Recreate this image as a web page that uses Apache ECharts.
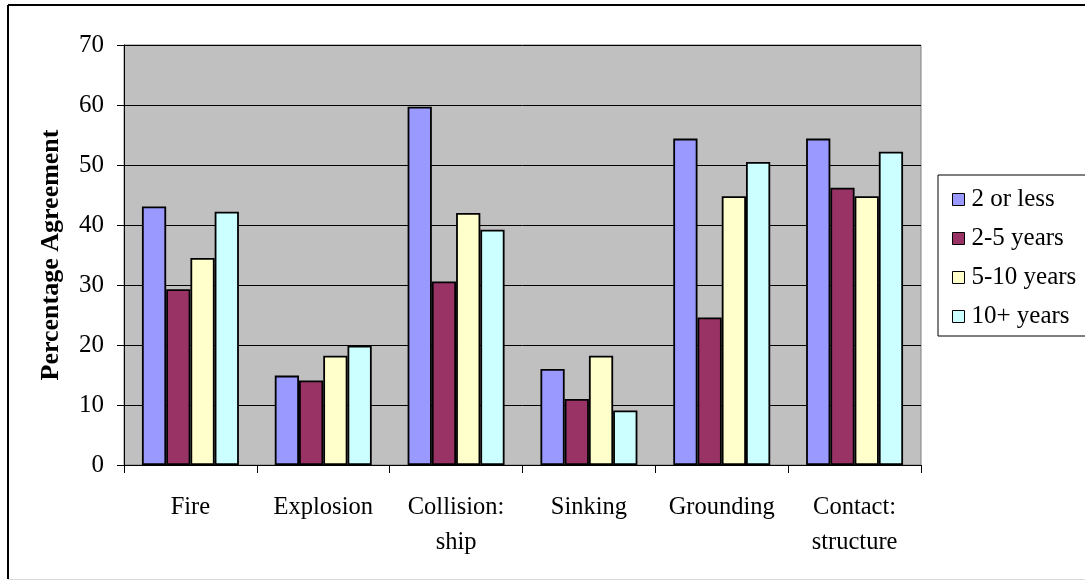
<!DOCTYPE html>
<html>
<head>
<meta charset="utf-8">
<script src="https://cdn.jsdelivr.net/npm/echarts@6/dist/echarts.min.js"></script>
<style>
  html, body { margin: 0; padding: 0; background: #fff; }
  #chart { width: 1085px; height: 581px; }
</style>
</head>
<body>
<div id="chart"></div>
<script>
// Incident types along the x axis
const categories = ['Fire', 'Explosion', 'Collision:\nship', 'Sinking', 'Grounding', 'Contact:\nstructure'];

// Percentage agreement by years of experience
const lessThan2 = [43.1, 14.9, 59.7, 16.0, 54.4, 54.4];
const years2to5 = [29.3, 14.1, 30.6, 11.0, 24.6, 46.2];
const years5to10 = [34.5, 18.2, 42.0, 18.2, 44.8, 44.8];
const years10plus = [42.2, 19.9, 39.2, 9.1, 50.5, 52.2];

const seriesNames = ['2 or less', '2-5 years', '5-10 years', '10+ years'];
const seriesColors = ['#9999FF', '#993366', '#FFFFCC', '#CCFFFF'];
const seriesValues = [lessThan2, years2to5, years5to10, years10plus];

const yTicks = { min: 0, max: 70, interval: 10 };

const FONT = '"Liberation Serif", "Times New Roman", serif';

const chart = echarts.init(document.getElementById('chart'), null, { renderer: 'canvas' });

chart.setOption({
  backgroundColor: '#ffffff',
  animation: false,
  textStyle: { fontFamily: FONT, color: '#000' },
  graphic: [
    { type: 'line', shape: { x1: 8, y1: 5, x2: 1085, y2: 5 }, style: { stroke: '#000', lineWidth: 2 } },
    { type: 'line', shape: { x1: 8, y1: 5, x2: 8, y2: 579 }, style: { stroke: '#000', lineWidth: 2 } },
    { type: 'line', shape: { x1: 8, y1: 579.5, x2: 1085, y2: 579.5 }, style: { stroke: '#d9d9d9', lineWidth: 1 } }
  ],
  grid: {
    left: 124, top: 45, width: 797, height: 420,
    show: true, backgroundColor: '#C0C0C0', borderColor: '#808080', borderWidth: 1
  },
  legend: {
    orient: 'vertical',
    left: 938, top: 175,
    data: seriesNames,
    icon: 'rect',
    itemWidth: 12, itemHeight: 12,
    itemGap: 14,
    padding: [12, 20, 7, 14],
    borderColor: '#000', borderWidth: 1,
    backgroundColor: '#fff',
    itemStyle: { borderColor: '#000', borderWidth: 1 },
    textStyle: { fontFamily: FONT, fontSize: 25, color: '#000', padding: [0, 0, 0, 2] }
  },
  xAxis: {
    type: 'category',
    data: categories,
    boundaryGap: true,
    axisLine: { show: true, lineStyle: { color: '#000', width: 1 } },
    axisTick: { show: true, alignWithLabel: false, length: 8, lineStyle: { color: '#000' } },
    axisLabel: {
      interval: 0, margin: 25, fontFamily: FONT, fontSize: 24.5, color: '#000', lineHeight: 35
    },
    splitLine: { show: false }
  },
  yAxis: {
    type: 'value',
    min: yTicks.min, max: yTicks.max, interval: yTicks.interval,
    name: 'Percentage Agreement',
    nameLocation: 'middle',
    nameRotate: 90,
    nameGap: 60,
    nameTextStyle: { fontFamily: FONT, fontSize: 26, fontWeight: 'bold', color: '#000' },
    axisLine: { show: true, lineStyle: { color: '#000', width: 1 } },
    axisTick: { show: true, length: 7, lineStyle: { color: '#000' } },
    axisLabel: { margin: 20, fontFamily: FONT, fontSize: 25, color: '#000' },
    splitLine: { show: true, lineStyle: { color: '#000', width: 1 } }
  },
  series: seriesValues.map((vals, i) => ({
    name: seriesNames[i],
    type: 'bar',
    data: vals,
    barGap: '0%',
    barCategoryGap: '27%',
    itemStyle: { color: seriesColors[i], borderColor: '#000', borderWidth: 1.8 }
  }))
});
</script>
</body>
</html>
